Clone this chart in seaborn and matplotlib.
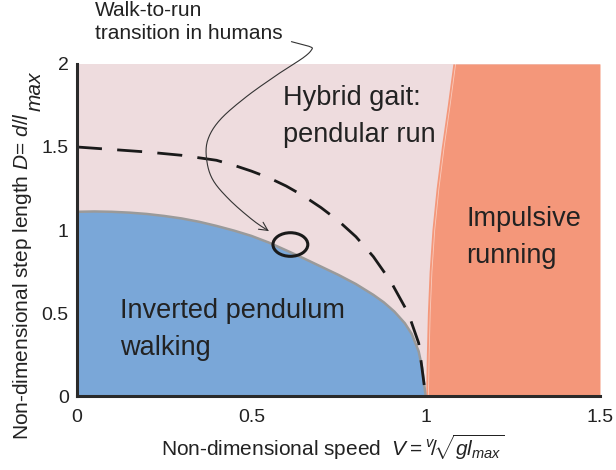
import numpy as np
import pandas as pd
import matplotlib
matplotlib.use("Agg")
import matplotlib.pyplot as plt
import seaborn as sns
from matplotlib.patches import Ellipse, FancyArrowPatch
from matplotlib.path import Path

# ---- data ----
walk_V = [0.0, 0.05, 0.1, 0.15, 0.2, 0.25, 0.3, 0.35, 0.4, 0.45, 0.5, 0.55, 0.6, 0.65,
          0.7, 0.75, 0.8, 0.85, 0.88, 0.91, 0.94, 0.96, 0.98, 0.99, 1.0]
walk_D = [1.11, 1.112, 1.11, 1.105, 1.097, 1.085, 1.07, 1.05, 1.025, 0.997, 0.965, 0.925,
          0.878, 0.83, 0.78, 0.73, 0.675, 0.61, 0.565, 0.51, 0.44, 0.375, 0.27, 0.17, 0.0]

run_D = [0.0, 0.25, 0.5, 0.75, 1.0, 1.25, 1.5, 1.75, 2.0]
run_V = [1.0, 1.002, 1.005, 1.010, 1.018, 1.030, 1.045, 1.062, 1.078]

dash_V = [0.0, 0.1, 0.2, 0.3, 0.4, 0.45, 0.5, 0.55, 0.6, 0.65, 0.7, 0.75, 0.8, 0.85,
          0.9, 0.95, 0.98, 1.0]
dash_D = [1.5, 1.485, 1.47, 1.45, 1.42, 1.39, 1.355, 1.315, 1.265, 1.205, 1.135, 1.055,
          0.96, 0.84, 0.69, 0.50, 0.32, 0.0]

human_V, human_D = 0.612, 0.913
human_w, human_h = 0.100, 0.142

arrow_V = [0.615, 0.668, 0.6725, 0.648, 0.582, 0.486, 0.410, 0.375, 0.372, 0.390, 0.438, 0.504, 0.550]
arrow_D = [2.134, 2.104, 2.084, 2.036, 1.946, 1.803, 1.663, 1.542, 1.422, 1.301, 1.181, 1.060, 0.994]

x_ticks = [0, 0.5, 1, 1.5]
x_ticklabels = ["0", "0.5", "1", "1.5"]
y_ticks = [0, 0.5, 1, 1.5, 2]
y_ticklabels = ["0", "0.5", "1", "1.5", "2"]

c_pink = "#EEDCDE"
c_blue = "#7AA7D8"
c_salmon = "#F4977A"
c_dark = "#2a2a2a"
c_text = "#222222"


def smooth_path(xs, ys, n=12):
    """Catmull-Rom spline through the given points (only for drawing the pointer curve)."""
    p = np.column_stack([xs, ys]).astype(float)
    p = np.vstack([p[0], p, p[-1]])
    out = []
    for i in range(1, len(p) - 2):
        p0, p1, p2, p3 = p[i - 1], p[i], p[i + 1], p[i + 2]
        for t in np.linspace(0, 1, n, endpoint=False):
            t2, t3 = t * t, t * t * t
            out.append(0.5 * ((2 * p1) + (-p0 + p2) * t + (2 * p0 - 5 * p1 + 4 * p2 - p3) * t2
                              + (-p0 + 3 * p1 - 3 * p2 + p3) * t3))
    out.append(p[-2])
    return np.array(out)


sns.set_theme(style="white")
plt.rcParams["font.family"] = ["Liberation Sans", "DejaVu Sans"]
plt.rcParams["mathtext.fontset"] = "custom"
plt.rcParams["mathtext.rm"] = "Liberation Sans"
plt.rcParams["mathtext.it"] = "Liberation Sans:italic"
plt.rcParams["mathtext.bf"] = "Liberation Sans:bold"

fig = plt.figure(figsize=(6.16, 4.70), dpi=100)
ax = fig.add_axes([0.125, 0.157, 0.849, 0.707])
ax.set_xlim(0, 1.5)
ax.set_ylim(0, 2)

# regions
ax.fill_between([0, 1.5], 0, 2, color=c_pink, lw=0, zorder=0)
ax.fill_between(walk_V, 0, walk_D, color=c_blue, lw=0, zorder=1)
ax.fill_betweenx(run_D, run_V, 1.5, color=c_salmon, lw=0, zorder=1)
ax.plot(np.array(run_V) + 0.008, run_D, color="white", lw=0.6, alpha=0.5, zorder=2)

walk_df = pd.DataFrame({"V": walk_V, "D": walk_D})
sns.lineplot(data=walk_df, x="V", y="D", ax=ax, color="#9a9a9a", lw=1.8, sort=False, zorder=3)

dash_df = pd.DataFrame({"V": dash_V, "D": dash_D})
sns.lineplot(data=dash_df, x="V", y="D", ax=ax, color="#1a1a1a", lw=2.0,
             dashes=False, sort=False, zorder=4)
ax.lines[-1].set_dashes([9, 5.5])

ax.add_patch(Ellipse((human_V, human_D), human_w, human_h, fill=False,
                     ec="#1a1a1a", lw=2.2, zorder=5))

pts = smooth_path(arrow_V, arrow_D)
codes = [Path.MOVETO] + [Path.LINETO] * (len(pts) - 1)
arr = FancyArrowPatch(path=Path(pts, codes), arrowstyle="->,head_length=6,head_width=3",
                      color="#333333", lw=0.8, transform=ax.transData, clip_on=False, zorder=6)
ax.add_patch(arr)

# region labels
lab_kw = dict(fontsize=19.5, color=c_text, va="top", ha="left", linespacing=1.55, zorder=7)
ax.text(0.59, 1.875, "Hybrid gait:\npendular run", **lab_kw)
ax.text(1.117, 1.145, "Impulsive\nrunning", **lab_kw)
ax.text(0.123, 0.59, "Inverted pendulum\nwalking", **lab_kw)

fig.text(0.154, 0.998, "Walk-to-run\ntransition in humans", fontsize=15, color=c_text,
         va="top", ha="left", linespacing=1.27)

# axes styling
sns.despine(ax=ax, top=True, right=True)
for s in ["left", "bottom"]:
    ax.spines[s].set_color(c_dark)
    ax.spines[s].set_linewidth(2.2)
    ax.spines[s].set_zorder(8)
ax.set_xticks(x_ticks)
ax.set_xticklabels(x_ticklabels)
ax.set_yticks(y_ticks)
ax.set_yticklabels(y_ticklabels)
ax.tick_params(axis="both", direction="in", length=5, width=1.5, color=c_dark,
               labelsize=14, labelcolor=c_text, pad=6)
ax.tick_params(axis="x", pad=9)
ax.set_xlabel("")
ax.set_ylabel("")

# x label (placed like the reference)
fig.text(161 / 616, 14 / 470, r"Non-dimensional speed  $V = {}^{v}\!/\!\sqrt{gl_{max}}$",
         fontsize=15, color=c_text, ha="left", va="baseline")

# y label with a full-size, lowered "max"
ylab = fig.text(28 / 616, 30 / 470, r"Non-dimensional step length $D$= $d/l$",
                fontsize=15, color=c_text, rotation=90, rotation_mode="anchor",
                ha="left", va="baseline")
fig.canvas.draw()
bb = ylab.get_window_extent(fig.canvas.get_renderer())
fig.text(41 / 616, (bb.y1 + 1) / 470, "max", fontsize=15, style="italic", color=c_text,
         rotation=90, rotation_mode="anchor", ha="left", va="baseline")

fig.savefig("out.png", dpi=100)
